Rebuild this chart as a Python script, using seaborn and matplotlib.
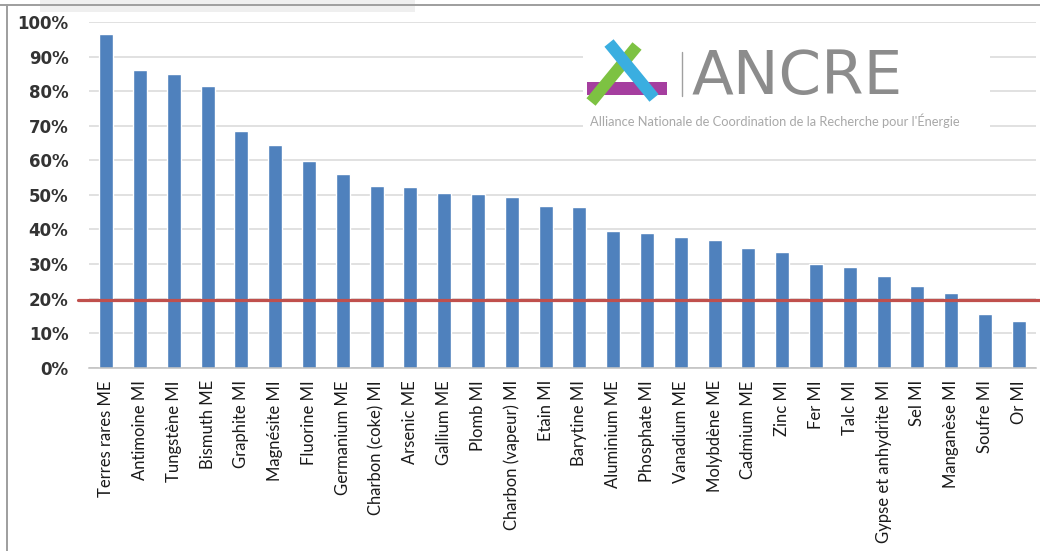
import numpy as np
import pandas as pd
import matplotlib
matplotlib.use("Agg")
import matplotlib.pyplot as plt
from matplotlib.patches import Rectangle
import seaborn as sns

# -------- data --------
minerals = [
    "Terres rares ME", "Antimoine MI", "Tungstène MI", "Bismuth ME", "Graphite MI",
    "Magnésite MI", "Fluorine MI", "Germanium ME", "Charbon (coke) MI", "Arsenic ME",
    "Gallium ME", "Plomb MI", "Charbon (vapeur) MI", "Etain MI", "Barytine MI",
    "Aluminium ME", "Phosphate MI", "Vanadium ME", "Molybdène ME", "Cadmium ME",
    "Zinc MI", "Fer MI", "Talc MI", "Gypse et anhydrite MI", "Sel MI",
    "Manganèse MI", "Soufre MI", "Or MI",
]
shares = [
    0.966, 0.861, 0.850, 0.816, 0.686,
    0.643, 0.599, 0.559, 0.526, 0.522,
    0.505, 0.502, 0.494, 0.468, 0.464,
    0.395, 0.389, 0.378, 0.368, 0.347,
    0.335, 0.299, 0.292, 0.264, 0.236,
    0.215, 0.156, 0.136,
]
threshold = 0.195
y_ticks = np.arange(0, 1.01, 0.1)
y_labels = [f"{int(round(v * 100))}%" for v in y_ticks]

logo_name = "ANCRE"
logo_subtitle = "Alliance Nationale de Coordination de la Recherche pour l'Énergie"

# -------- style --------
BAR_COLOR = "#4F81BD"
RED = "#C0504D"
GRID = "#D9D9D9"
W, H = 1040, 551

sns.set_style("white")
plt.rcParams["font.family"] = ["Lato", "DejaVu Sans"]


def px_box(l, t, r, b):
    return [l / W, 1 - b / H, (r - l) / W, (b - t) / H]


fig = plt.figure(figsize=(W / 100, H / 100), dpi=100)
ax = fig.add_axes(px_box(89.3, 22, 1035.7, 367.7))

df = pd.DataFrame({"minerai": minerals, "part": shares})
sns.barplot(data=df, x="minerai", y="part", color=BAR_COLOR, saturation=1,
            width=0.41, ax=ax)

ax.set_xlim(-0.5, len(minerals) - 0.5)
ax.set_ylim(0, 1)
ax.set_yticks(y_ticks)
ax.set_yticklabels(y_labels, fontfamily="DejaVu Sans", fontweight="bold",
                   fontsize=12, color="#333333")
ax.yaxis.grid(True, color=GRID, lw=1.1)
ax.set_axisbelow(True)
ax.set_xlabel("")
ax.set_ylabel("")

for s in ["top", "right", "left"]:
    ax.spines[s].set_visible(False)
ax.spines["bottom"].set_color("#BFBFBF")
ax.spines["bottom"].set_linewidth(1.1)

ax.tick_params(axis="y", length=5.5, color=GRID, width=1.1, pad=9.5)

ax.set_xticks(range(len(minerals)))
ax.set_xticklabels(minerals, rotation=90, fontsize=12, color="#1A1A1A")
ax.tick_params(axis="x", which="major", length=0, pad=9)
ax.set_xticks(np.arange(-0.5, len(minerals), 1), minor=True)
ax.tick_params(axis="x", which="minor", length=4.3, color="#BFBFBF", width=1.1)

# seuil
ax.axhline(threshold, xmin=-0.012, xmax=1.005, color=RED, lw=2.3,
           clip_on=False, zorder=4)

# -------- overlay: frame + logo --------
ov = fig.add_axes([0, 0, 1, 1], zorder=5)
ov.set_xlim(0, W)
ov.set_ylim(H, 0)
ov.axis("off")
ov.patch.set_alpha(0)

ov.plot([0, W], [4.5, 4.5], color="#9E9E9E", lw=1.4)
ov.plot([7, 7], [4.5, H], color="#9E9E9E", lw=1.4)
ov.add_patch(Rectangle((40, 0), 375, 12, color="#EFEFEF", lw=0))

ov.add_patch(Rectangle((583, 33), 407, 108, color="white", lw=0))
ov.plot([591, 637], [102, 46], color="#7DC242", lw=8.5, solid_capstyle="butt")
ov.add_patch(Rectangle((587, 82), 80, 13, color="#A53E9F", lw=0))
ov.plot([609, 654], [43, 98], color="#3AAEE0", lw=8.5, solid_capstyle="butt")
ov.plot([682, 682], [52, 96], color="#A0A0A0", lw=1)
ov.text(692, 94, logo_name, fontsize=44, color="#8C8C8C",
        family="DejaVu Sans", ha="left", va="baseline")
ov.text(590, 121, logo_subtitle, fontsize=9.3, color="#A8A8A8",
        ha="left", va="center")

fig.savefig("out.png", dpi=100)
